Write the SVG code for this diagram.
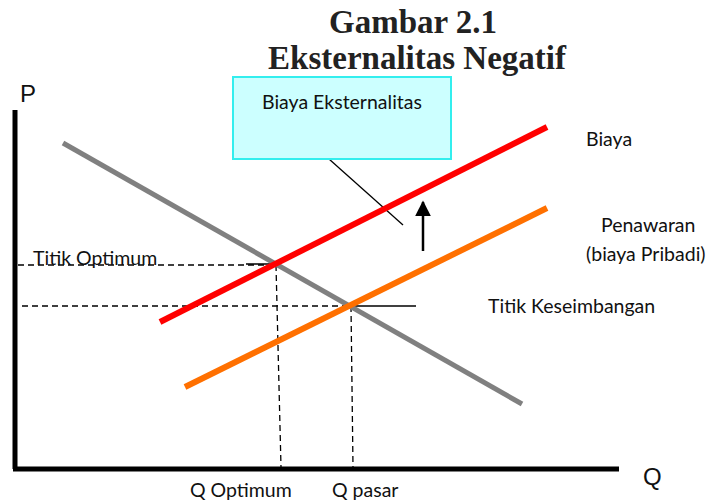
<svg xmlns="http://www.w3.org/2000/svg" width="714" height="502" viewBox="0 0 714 502">
<defs>
<style>
.lbl{font-family:Lato,"Open Sans","Liberation Sans",sans-serif;font-size:19.5px;fill:#111}
.ax{font-family:"Liberation Sans",Arial,sans-serif;font-size:24px;fill:#111}
.ttl{font-family:"Liberation Serif","Times New Roman",serif;font-weight:bold;font-size:33px;fill:#222;text-anchor:middle}
.dash{stroke:#000;stroke-width:1.3;stroke-dasharray:6 4;fill:none}
.thin{stroke:#000;stroke-width:1.3;fill:none}
</style>
<marker id="ah" viewBox="0 0 10 10" refX="9" refY="5" markerWidth="16" markerHeight="16" markerUnits="userSpaceOnUse" orient="auto"><path d="M0,0 L10,5 L0,10 z" fill="#000"/></marker>
</defs>
<rect width="714" height="502" fill="#fff"/>
<g id="title">
<text class="ttl" x="413" y="33">Gambar 2.1</text>
<text class="ttl" x="417" y="69">Eksternalitas Negatif</text>
</g>
<g id="axes">
<line x1="15" y1="110" x2="15" y2="469" stroke="#000" stroke-width="5"/>
<line x1="13" y1="469" x2="619" y2="469" stroke="#000" stroke-width="5"/>
<text class="ax" x="20" y="102">P</text>
<text class="ax" x="643" y="485">Q</text>
</g>
<g id="connectors">
<line class="dash" x1="18" y1="265" x2="276" y2="265"/>
<line class="thin" x1="246" y1="264" x2="280" y2="264"/>
<line class="dash" x1="276" y1="265" x2="281" y2="467"/>
<line class="dash" x1="22" y1="306" x2="351" y2="306"/>
<line class="thin" x1="351" y1="306" x2="416" y2="306"/>
<line class="dash" x1="351" y1="306" x2="353" y2="467"/>
<line class="thin" x1="329" y1="159" x2="403" y2="225"/>
<line x1="423" y1="251" x2="423" y2="202" stroke="#000" stroke-width="2.5" marker-end="url(#ah)"/>
</g>
<g id="curves">
<line x1="63" y1="143" x2="522" y2="404" stroke="#808080" stroke-width="5"/>
<line x1="160" y1="322" x2="547" y2="127" stroke="#ff0000" stroke-width="6"/>
<line x1="185" y1="387" x2="547" y2="208" stroke="#ff7000" stroke-width="6"/>
</g>
<g id="box">
<rect x="233" y="77" width="218" height="82" fill="#ccffff" stroke="#33eeee" stroke-width="2"/>
<text class="lbl" x="342" y="109" text-anchor="middle">Biaya Eksternalitas</text>
</g>
<g id="labels">
<text class="lbl" x="586" y="146">Biaya</text>
<text class="lbl" x="601" y="232">Penawaran</text>
<text class="lbl" x="586" y="261">(biaya Pribadi)</text>
<text class="lbl" x="488" y="313">Titik Keseimbangan</text>
<text class="lbl" x="33" y="265">Titik Optimum</text>
<text class="lbl" x="190" y="497">Q Optimum</text>
<text class="lbl" x="332" y="497">Q pasar</text>
</g>
</svg>
